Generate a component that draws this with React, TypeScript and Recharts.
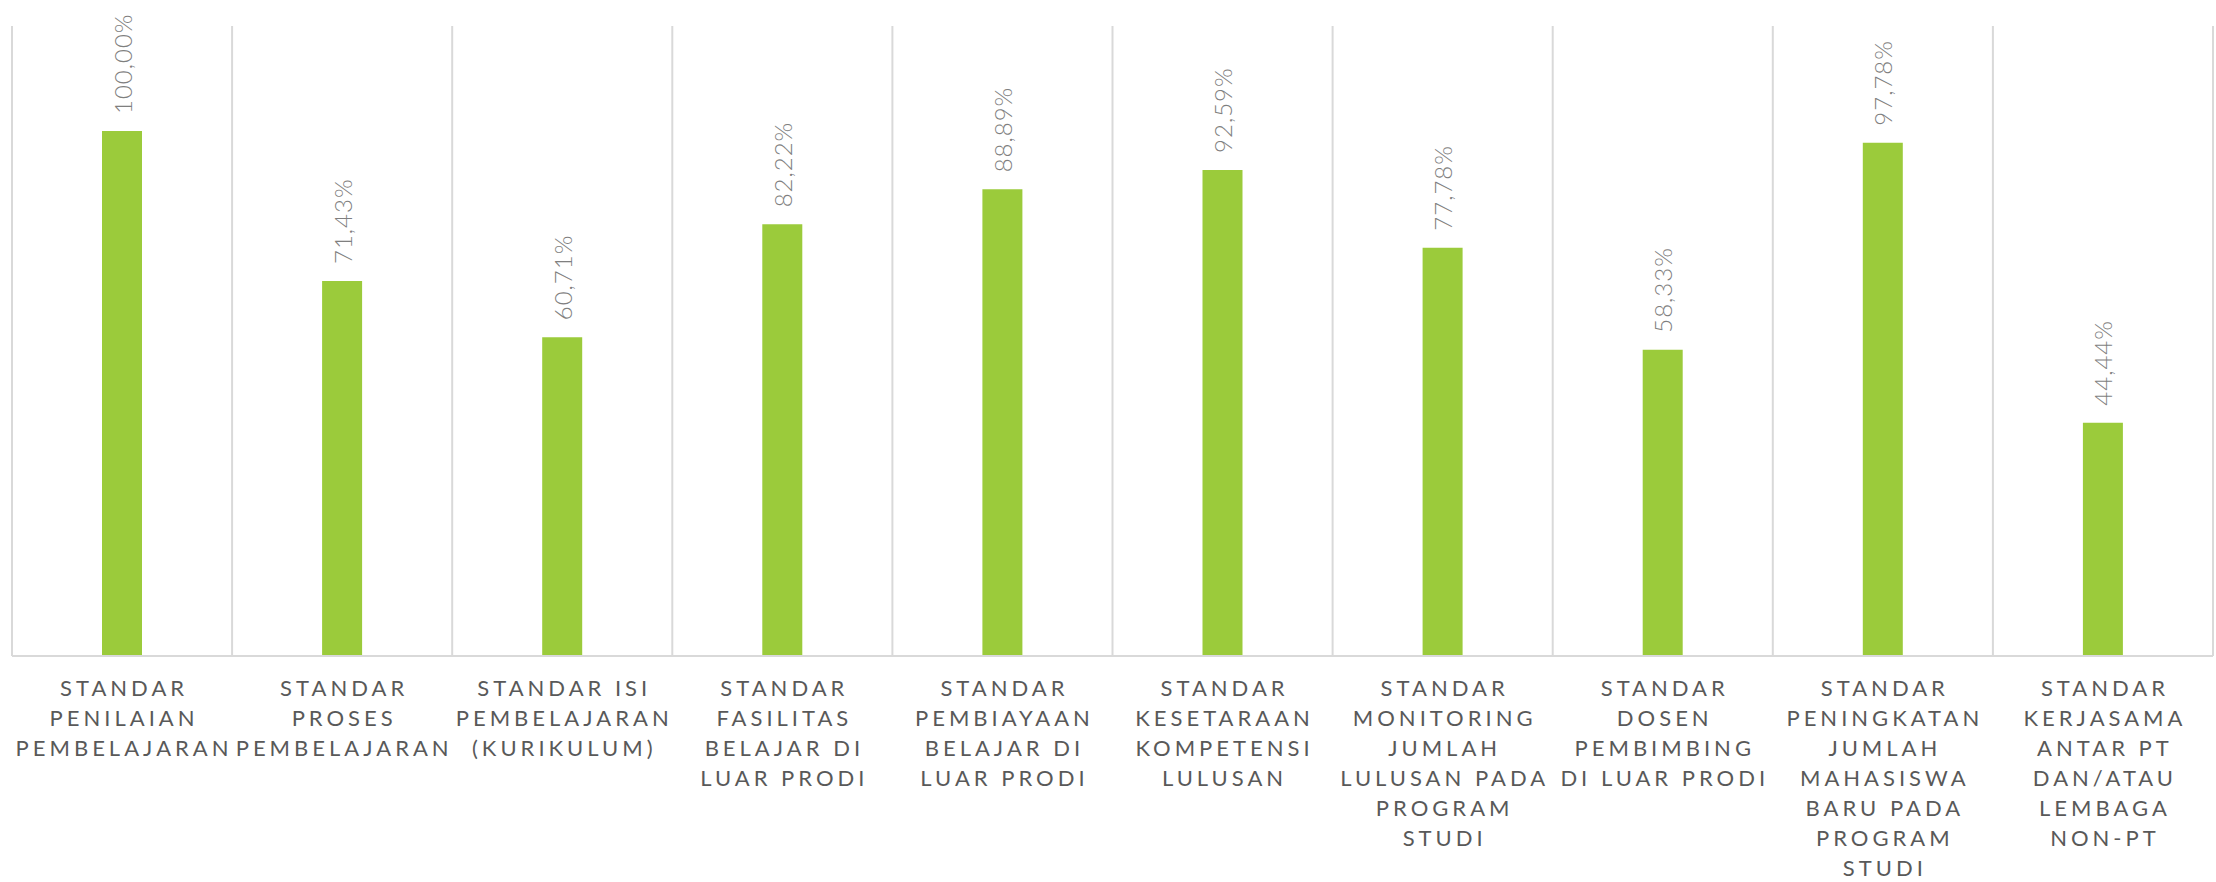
import React from 'react';
import { BarChart, Bar, XAxis, YAxis, CartesianGrid, LabelList } from 'recharts';

// category labels, line breaks as in the source
const categories = [
  'STANDAR\nPENILAIAN\nPEMBELAJARAN',
  'STANDAR\nPROSES\nPEMBELAJARAN',
  'STANDAR ISI\nPEMBELAJARAN\n(KURIKULUM)',
  'STANDAR\nFASILITAS\nBELAJAR DI\nLUAR PRODI',
  'STANDAR\nPEMBIAYAAN\nBELAJAR DI\nLUAR PRODI',
  'STANDAR\nKESETARAAN\nKOMPETENSI\nLULUSAN',
  'STANDAR\nMONITORING\nJUMLAH\nLULUSAN PADA\nPROGRAM\nSTUDI',
  'STANDAR\nDOSEN\nPEMBIMBING\nDI LUAR PRODI',
  'STANDAR\nPENINGKATAN\nJUMLAH\nMAHASISWA\nBARU PADA\nPROGRAM\nSTUDI',
  'STANDAR\nKERJASAMA\nANTAR PT\nDAN/ATAU\nLEMBAGA\nNON-PT',
];

const values = [1.0, 0.7143, 0.6071, 0.8222, 0.8889, 0.9259, 0.7778, 0.5833, 0.9778, 0.4444];

const data = categories.map((name, i) => ({ name, value: values[i] }));

const W = 2216;
const H = 882;
const FONT = 'Lato, "Open Sans", sans-serif';

const fmt = (v: number) => (v * 100).toFixed(2).replace('.', ',') + '%';

const CategoryTick = (props: any) => {
  const { x, y, payload } = props;
  const lines: string[] = String(payload.value).split('\n');
  return (
    <text
      x={x}
      y={y}
      textAnchor="middle"
      fill="#595959"
      fontFamily={FONT}
      fontSize={22}
      style={{ letterSpacing: '4px' }}
    >
      {lines.map((l, i) => (
        <tspan key={i} x={x + 2} dy={i === 0 ? 32 : 30}>
          {l}
        </tspan>
      ))}
    </text>
  );
};

const ValueLabel = (props: any) => {
  const { x, y, width, value } = props;
  const cx = x + width / 2;
  const ty = y - 17;
  return (
    <text
      x={cx}
      y={ty}
      transform={`rotate(-90, ${cx}, ${ty})`}
      textAnchor="start"
      dominantBaseline="central"
      fill="#7f7f7f"
      fontFamily={FONT}
      fontSize={24}
      fontWeight={300}
      style={{ letterSpacing: '1px' }}
    >
      {fmt(value)}
    </text>
  );
};

export default function App() {
  return (
    <div style={{ position: 'absolute', left: 0, top: 0, width: W, height: H, background: '#fff' }}>
      <BarChart
        width={W}
        height={H}
        data={data}
        margin={{ top: 26, right: 3, left: 12, bottom: 0 }}
        barCategoryGap={0}
      >
        <CartesianGrid
          horizontal={false}
          stroke="#d9d9d9"
          strokeWidth={2}
          verticalCoordinatesGenerator={({ offset }: any) =>
            categories.map((_, i) => offset.left + (offset.width * i) / categories.length).concat([offset.left + offset.width])
          }
        />
        <XAxis
          dataKey="name"
          interval={0}
          height={226}
          tickLine={false}
          axisLine={{ stroke: '#d9d9d9', strokeWidth: 2 }}
          tick={<CategoryTick />}
        />
        <YAxis hide domain={[0, 1.2]} />
        <Bar dataKey="value" fill="#9bcb3b" barSize={40} isAnimationActive={false}>
          <LabelList dataKey="value" content={<ValueLabel />} />
        </Bar>
      </BarChart>
    </div>
  );
}
